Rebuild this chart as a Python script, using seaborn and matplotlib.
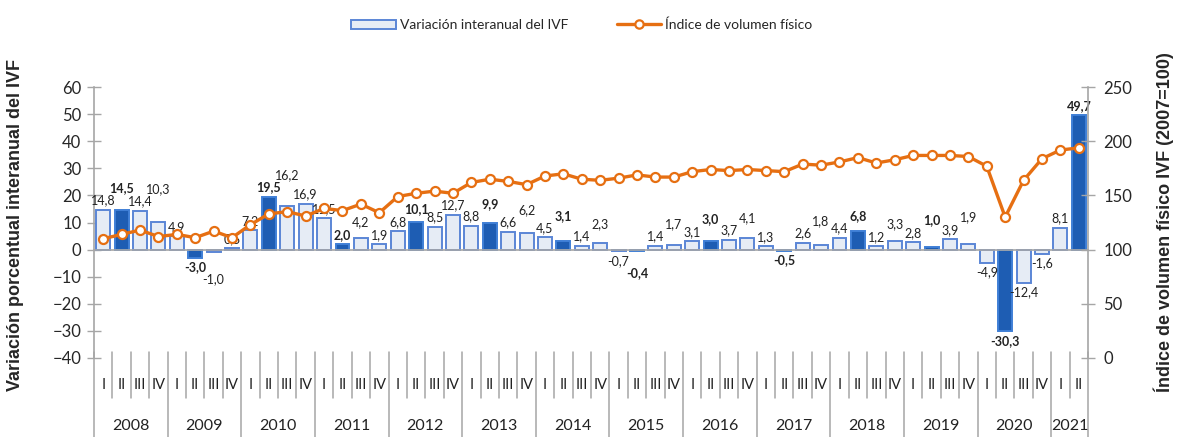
import numpy as np
import pandas as pd
import matplotlib
matplotlib.use("Agg")
import matplotlib.pyplot as plt
import matplotlib.transforms as mtransforms
from matplotlib.patches import Patch
from matplotlib.lines import Line2D
import seaborn as sns

# --- data -------------------------------------------------------------
years = ["2008", "2009", "2010", "2011", "2012", "2013", "2014",
         "2015", "2016", "2017", "2018", "2019", "2020", "2021"]
quarters = ["I", "II", "III", "IV"]

# interannual variation of the IVF (%), 2008-I .. 2021-II
variacion = [14.8, 14.5, 14.4, 10.3,
             4.9, -3.0, -1.0, 0.5,
             7.2, 19.5, 16.2, 16.9,
             11.5, 2.0, 4.2, 1.9,
             6.8, 10.1, 8.5, 12.7,
             8.8, 9.9, 6.6, 6.2,
             4.5, 3.1, 1.4, 2.3,
             -0.7, -0.4, 1.4, 1.7,
             3.1, 3.0, 3.7, 4.1,
             1.3, -0.5, 2.6, 1.8,
             4.4, 6.8, 1.2, 3.3,
             2.8, 1.0, 3.9, 1.9,
             -4.9, -30.3, -12.4, -1.6,
             8.1, 49.7]

# physical volume index (2007=100)
indice = [110, 114, 118, 112,
          114, 111, 117, 111,
          123, 133, 135, 131,
          138, 136, 142, 134,
          149, 152, 154, 152,
          162, 165, 163, 160,
          168, 170, 165, 164,
          166, 169, 167, 167,
          172, 174, 173, 174,
          173, 172, 179, 178,
          181, 185, 180, 183,
          187, 187, 187, 186,
          177, 130, 164, 184,
          192, 194]

n = len(variacion)
q_labels = [quarters[i % 4] for i in range(n)]
pos = np.arange(n)

df = pd.DataFrame({"pos": pos, "variacion": variacion, "indice": indice,
                   "trimestre": q_labels})

LIGHT = "#E6ECF5"
LIGHT_EDGE = "#5B86D6"
DARK = "#1E5DB3"
DARK_EDGE = "#3F7FD6"
ORANGE = "#E66F12"
GRAY = "#A6A6A6"

sns.set_style("white")
plt.rcParams["font.family"] = ["Lato", "DejaVu Sans"]

fig = plt.figure(figsize=(11.79, 4.37), dpi=100)
W, H = 1179, 437
x0, x1 = 94, 1088
y_top, y_bot = 87.3, 357.7
ax = fig.add_axes([x0 / W, 1 - y_bot / H, (x1 - x0) / W, (y_bot - y_top) / H])

colors = [DARK if q == "II" else LIGHT for q in q_labels]
sns.barplot(data=df, x="pos", y="variacion", hue="pos", palette=colors,
            legend=False, width=0.76, ax=ax, saturation=1)
for patch, q in zip(ax.patches, q_labels):
    patch.set_edgecolor(DARK_EDGE if q == "II" else LIGHT_EDGE)
    patch.set_linewidth(1.4)

ax.set_xlim(-0.5, n - 0.5)
ax.set_ylim(-40, 60)
ax.set_yticks(np.arange(-40, 61, 10))
ax.set_xlabel("")
ax.set_ylabel("")

# data labels, nudged up/down when they would collide with the previous one
prev_y, prev_bumped, prev_sign = None, False, 0
for i, v in enumerate(variacion):
    bold = q_labels[i] == "II"
    txt = f"{v:.1f}".replace(".", ",")
    sign = 1 if v >= 0 else -1
    y = v + 1.2 * sign
    bumped = False
    if prev_y is not None and sign == prev_sign and abs(y - prev_y) < 4.3:
        if not prev_bumped:
            y = prev_y + 4.6 * sign
            bumped = True
    ax.text(i, y, txt, ha="center", va="bottom" if sign > 0 else "top",
            fontsize=9, fontweight="bold" if bold else "normal",
            color="#222222")
    prev_y, prev_bumped, prev_sign = y, bumped, sign

# axes styling
for s in ["top", "right"]:
    ax.spines[s].set_visible(False)
ax.spines["left"].set_color(GRAY)
ax.spines["left"].set_linewidth(1.2)
ax.spines["bottom"].set_position(("data", 0))
ax.spines["bottom"].set_color(GRAY)
ax.spines["bottom"].set_linewidth(1.2)
ax.set_xticks(np.arange(-0.5, n, 1))
ax.set_xticklabels([])
ax.tick_params(axis="x", direction="out", length=5, color=GRAY, width=1)
ax.tick_params(axis="y", direction="inout", length=10, color=GRAY, width=1,
               labelsize=12, pad=4)

# right axis with the index line
ax2 = ax.twinx()
sns.lineplot(data=df, x="pos", y="indice", ax=ax2, color=ORANGE, linewidth=2.4,
             marker="o", markersize=6.5, markerfacecolor="white",
             markeredgecolor=ORANGE, markeredgewidth=1.6)
ax2.set_ylim(0, 250)
ax2.set_yticks(np.arange(0, 251, 50))
ax2.set_ylabel("")
ax2.set_xlim(-0.5, n - 0.5)
for s in ["top", "left", "bottom"]:
    ax2.spines[s].set_visible(False)
ax2.spines["right"].set_color(GRAY)
ax2.spines["right"].set_linewidth(1.2)
ax2.tick_params(axis="y", direction="inout", length=10, color=GRAY, width=1,
                labelsize=12, pad=6)

# two-level category axis below the plot
trans = mtransforms.blended_transform_factory(ax.transData, ax.transAxes)
h_ax = y_bot - y_top
def fy(py):
    return (y_bot - py) / h_ax

for i in range(n + 1):
    xb = i - 0.5
    is_year = (i % 4 == 0) or i == n
    bottom = fy(437) if is_year else fy(398)
    ax.plot([xb, xb], [fy(352), bottom], transform=trans, color=GRAY,
            linewidth=1.1, clip_on=False)
for i in range(n):
    ax.text(i, fy(385), q_labels[i], transform=trans, ha="center",
            va="center", fontsize=10.5, color="#222222")
for k, yr in enumerate(years):
    start = 4 * k
    end = min(4 * k + 3, n - 1)
    ax.text((start + end) / 2, fy(426), yr, transform=trans, ha="center",
            va="center", fontsize=11.5, color="#222222")

# axis titles
fig.text(16 / W, 1 - 225 / H, "Variación porcentual interanual del IVF",
         rotation=90, ha="center", va="center", fontsize=13,
         fontweight="bold", family=["Liberation Sans", "DejaVu Sans"])
fig.text(1164 / W, 1 - 222 / H, "Índice de volumen físico IVF (2007=100)",
         rotation=90, ha="center", va="center", fontsize=13,
         fontweight="bold", family=["Liberation Sans", "DejaVu Sans"])

# legend
handles = [Patch(facecolor=LIGHT, edgecolor=LIGHT_EDGE, linewidth=1.4),
           Line2D([0], [0], color=ORANGE, linewidth=2.4, marker="o",
                  markersize=6, markerfacecolor="white",
                  markeredgecolor=ORANGE, markeredgewidth=1.6)]
fig.legend(handles, ["Variación interanual del IVF", "Índice de volumen físico"],
           loc="center", bbox_to_anchor=(582 / W, 1 - 25 / H), ncol=2,
           frameon=False, fontsize=10, handlelength=3.2, handletextpad=0.3,
           columnspacing=3.5)

fig.savefig("out.png", dpi=100)
